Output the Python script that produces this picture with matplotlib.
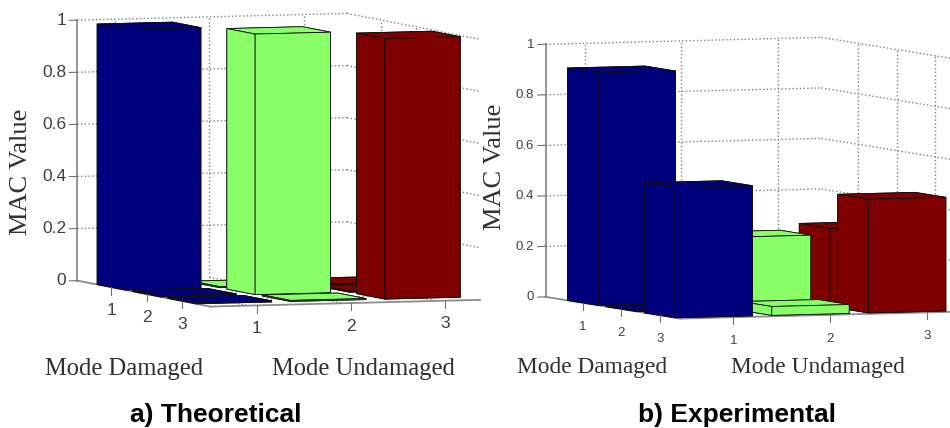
import matplotlib
matplotlib.use("Agg")
import matplotlib.pyplot as plt
from matplotlib.patches import Rectangle
from mpl_toolkits.mplot3d import proj3d

W, H = 950, 428

modes_damaged = [1, 2, 3]
modes_undamaged = [1, 2, 3]
z_ticks = [0, 0.2, 0.4, 0.6, 0.8, 1]
z_labels = ["0", "0.2", "0.4", "0.6", "0.8", "1"]
bar_colors = ["#00007f", "#88ff66", "#7f0000"]

# one list per undamaged mode, values for damaged modes 1..3
theo_u1 = [1.0, 0.004, 0.004]
theo_u2 = [0.004, 1.0, 0.004]
theo_u3 = [0.004, 0.004, 1.0]
exp_u1 = [0.92, 0.004, 0.515]
exp_u2 = [0.004, 0.285, 0.035]
exp_u3 = [0.004, 0.31, 0.45]


def draw_grid(ax, dlim, ulim):
    grid = dict(color="#808080", linestyle=":", linewidth=1.0, zorder=0)
    for u in modes_undamaged:
        ax.plot([dlim[0], dlim[0]], [u, u], [0, 1], **grid)
        ax.plot(dlim, [u, u], [0, 0], **grid)
    for d in modes_damaged:
        ax.plot([d, d], [ulim[1], ulim[1]], [0, 1], **grid)
        ax.plot([d, d], ulim, [0, 0], **grid)
    for z in z_ticks[1:]:
        ax.plot([dlim[0], dlim[0]], ulim, [z, z], **grid)
        ax.plot(dlim, [ulim[1], ulim[1]], [z, z], **grid)


def label_at(ax, d, u, z, label, **kwargs):
    # plain 2D text at the projected point, so it has a real place in the figure
    x2, y2, _ = proj3d.proj_transform(d, u, z, ax.get_proj())
    ax.text2D(x2, y2, label, transform=ax.transData, **kwargs)


def draw_panel(fig, cx, cy, size, aspect, dlim, ulim, view, columns, tick_size, order, u_shift, drop):
    # the 3D origin sits at 0.5135 of the axes, not the middle
    left = cx - 0.5135 * size
    bottom = (H - cy) - 0.5135 * size
    ax = fig.add_axes([left / W, bottom / H, size / W, size / H],
                      projection="3d", proj_type="ortho", computed_zorder=False)
    ax.set_zorder(order)
    ax.patch.set_alpha(0)
    ax.set_box_aspect(aspect)
    ax.view_init(elev=view[0], azim=view[1])

    draw_grid(ax, dlim, ulim)

    # painter order, back corner first
    for u_idx in reversed(range(len(modes_undamaged))):
        for d_idx, height in enumerate(columns[u_idx]):
            ax.bar3d(modes_damaged[d_idx] - 0.4, modes_undamaged[u_idx] - 0.4, 0,
                     0.8, 0.8, height, color=bar_colors[u_idx], shade=False,
                     edgecolor="#101010", linewidth=0.6)

    # move the z axis over to the left corner of the box
    ax.zaxis._axinfo["juggled"] = (1, 2, 0)
    ax.zaxis.set_ticks_position("lower")

    for axis in (ax.xaxis, ax.yaxis, ax.zaxis):
        axis.set_pane_color((1, 1, 1, 0))
        axis.pane.set_edgecolor("none")
        axis.line.set_color("#8c8c8c")
        axis.line.set_linewidth(1.3)
        axis.set_ticks([])

    # tick stubs and labels drawn by hand, native ones land in the wrong spot
    stub = 0.028
    text = dict(fontsize=tick_size, color="#404040")
    for d in modes_damaged:
        ax.plot([d, d], [ulim[0], ulim[0]], [0, -stub], color="#707070", lw=0.8)
    for u in modes_undamaged:
        ax.plot([dlim[1], dlim[1]], [u + u_shift, u + u_shift], [0, -stub], color="#707070", lw=0.8)
    for z in z_ticks:
        ax.plot([dlim[0], dlim[0]], [ulim[0], ulim[0] - 0.085], [z, z], color="#707070", lw=0.8)
    ax.set_xlim(*dlim)
    ax.set_ylim(*ulim)
    ax.set_zlim(0, 1)

    for d in modes_damaged:
        label_at(ax, d, ulim[0], -drop, str(d), ha="center", va="top", **text)
    for u in modes_undamaged:
        label_at(ax, dlim[1], u + u_shift, -drop, str(u), ha="center", va="top", **text)
    for z, label in zip(z_ticks, z_labels):
        label_at(ax, dlim[0], ulim[0] - 0.12, z, label, ha="right", va="center", **text)
    return ax


plt.rcParams["font.family"] = ["Liberation Sans", "DejaVu Sans"]
fig = plt.figure(figsize=(W / 100, H / 100), dpi=100)

draw_panel(fig, 278.7, 160, 537, (405, 294, 268), (0.04, 3.8), (0.6, 3.46), (4.0, -19.7),
           [theo_u1, theo_u2, theo_u3], 12.5, 1, 0.09, 0.06)
fig.add_artist(Rectangle((482 / W, 0), 468 / W, 1, transform=fig.transFigure,
                         facecolor="white", edgecolor="none", zorder=2))
draw_panel(fig, 750.8, 178, 519, (366, 296, 253), (0.04, 3.53), (0.6, 3.45), (3.65, -21.5),
           [exp_u1, exp_u2, exp_u3], 9.5, 3, 0.15, 0.07)

serif_a = dict(family="Liberation Serif", color="#303030", size=17.7, zorder=5)
serif_b = dict(family="Liberation Serif", color="#303030", size=16.8, zorder=5)
fig.text(124 / W, 1 - 369 / H, "Mode Damaged", ha="center", va="center", **serif_a)
fig.text(363 / W, 1 - 369 / H, "Mode Undamaged", ha="center", va="center", **serif_a)
fig.text(21 / W, 1 - 172 / H, "MAC Value", ha="center", va="center", rotation=90,
         family="Liberation Serif", color="#303030", size=19, zorder=5)
fig.text(592 / W, 1 - 368 / H, "Mode Damaged", ha="center", va="center", **serif_b)
fig.text(818 / W, 1 - 368 / H, "Mode Undamaged", ha="center", va="center", **serif_b)
fig.text(495 / W, 1 - 167 / H, "MAC Value", ha="center", va="center", rotation=90,
         family="Liberation Serif", color="#303030", size=19, zorder=5)

bold = dict(family="Liberation Sans", weight="bold", color="black", size=19, zorder=5)
fig.text(216 / W, 1 - 415 / H, "a) Theoretical", ha="center", va="center", **bold)
fig.text(737 / W, 1 - 415 / H, "b) Experimental", ha="center", va="center", **bold)

fig.savefig("out.png", dpi=100)
plt.close(fig)
